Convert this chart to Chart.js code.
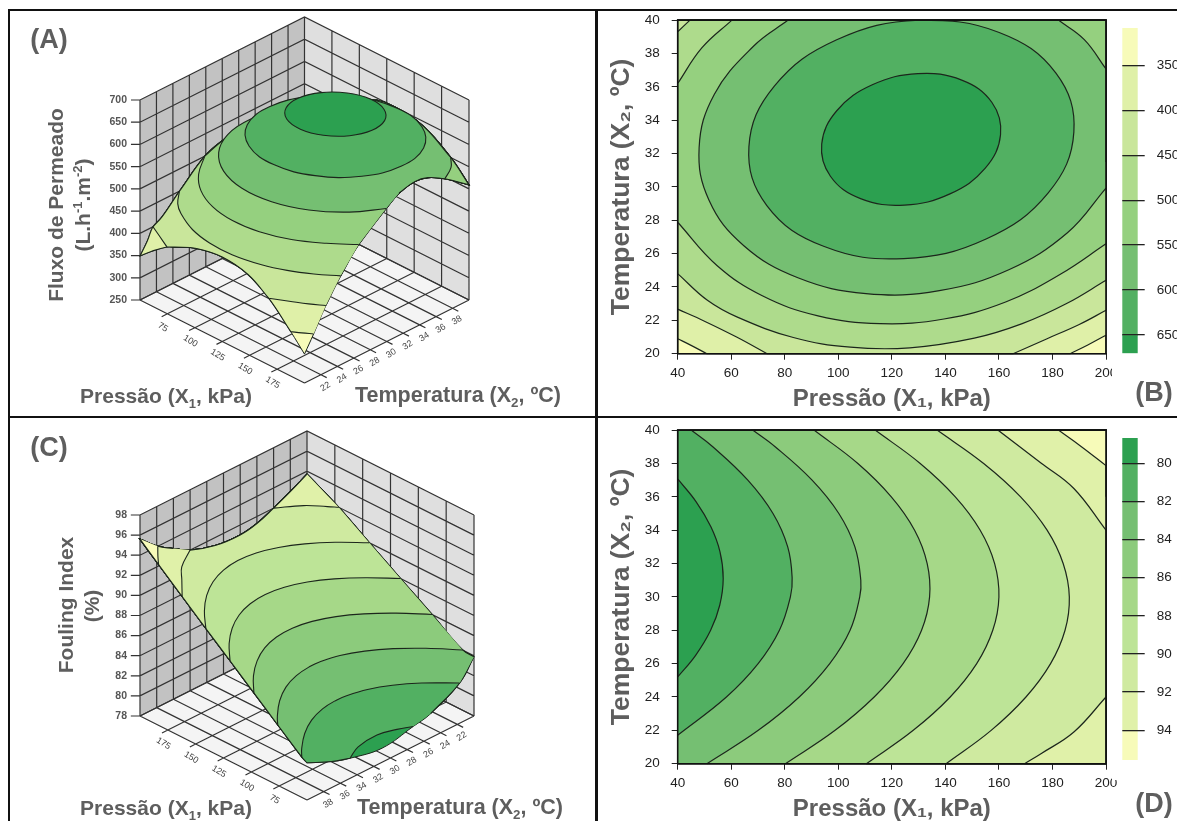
<!DOCTYPE html>
<html>
<head>
<meta charset="utf-8">
<title>Fluxo de permeado e fouling index</title>
<script src="https://cdn.jsdelivr.net/npm/chart.js@4/dist/chart.umd.min.js"></script>
<style>
    html, body { margin: 0; padding: 0; background: #fff; overflow: hidden; }
    body { position: relative; width: 1177px; height: 821px; font-family: "Liberation Sans", Arial, sans-serif; }
    canvas { position: absolute; }
    .rule { position: absolute; background: #111; z-index: 5; }
    .txt { position: absolute; transform: translate(-50%, -50%); white-space: nowrap; font-weight: bold; color: #5e5e5e; z-index: 6; }
    .txt.up { transform: translate(-50%, -50%) rotate(-90deg); }
    .txt sub, .txt sup { font-size: 62%; line-height: 0; }
</style>
</head>
<body>
<div class="rule" style="left:8px;top:9px;width:1169px;height:2px"></div>
<div class="rule" style="left:8px;top:416px;width:1169px;height:2px"></div>
<div class="rule" style="left:8px;top:9px;width:2px;height:812px"></div>
<div class="rule" style="left:595px;top:9px;width:3px;height:812px"></div>

<div class="txt" style="left:49px;top:39px;font-size:27px">(A)</div>
<div class="txt up" style="left:56px;top:205px;font-size:21px">Fluxo de Permeado</div>
<div class="txt up" style="left:83px;top:205px;font-size:21px">(L.h<sup>-1</sup>.m<sup>-2</sup>)</div>
<div class="txt" style="left:166px;top:396px;font-size:21px">Pressão (X<sub>1</sub>, kPa)</div>
<div class="txt" style="left:458px;top:395px;font-size:21.5px">Temperatura (X<sub>2</sub>, ºC)</div>

<div class="txt" style="left:49px;top:447px;font-size:27px">(C)</div>
<div class="txt up" style="left:66px;top:605px;font-size:21px">Fouling Index</div>
<div class="txt up" style="left:92px;top:606px;font-size:21px">(%)</div>
<div class="txt" style="left:166px;top:808px;font-size:21px">Pressão (X<sub>1</sub>, kPa)</div>
<div class="txt" style="left:460px;top:807px;font-size:21.5px">Temperatura (X<sub>2</sub>, ºC)</div>

<div class="txt" style="left:1154px;top:392px;font-size:27px">(B)</div>
<div class="txt" style="left:1154px;top:803px;font-size:27px">(D)</div>

<canvas id="chartA" width="582" height="403" style="left:12px;top:12px"></canvas>
<canvas id="chartC" width="582" height="402" style="left:12px;top:419px"></canvas>
<canvas id="chartB" width="527" height="416" style="left:598px;top:0"></canvas>
<canvas id="chartD" width="527" height="416" style="left:598px;top:410px"></canvas>
<canvas id="barB" width="65" height="377" style="left:1112px;top:8px;background:#fff"></canvas>
<canvas id="barD" width="65" height="362" style="left:1112px;top:418px;background:#fff"></canvas>

<script>
"use strict";

// --- axes ---
var pressureTicks = [40, 60, 80, 100, 120, 140, 160, 180, 200];
var temperatureTicks = [20, 22, 24, 26, 28, 30, 32, 34, 36, 38, 40];
var pressureGrid3d = [50, 75, 100, 125, 150, 175, 200];
var pressureLabels3d = [75, 100, 125, 150, 175];
var temperatureLabels3d = [22, 24, 26, 28, 30, 32, 34, 36, 38];
var fluxTicks = [250, 300, 350, 400, 450, 500, 550, 600, 650, 700];
var foulingTicks = [78, 80, 82, 84, 86, 88, 90, 92, 94, 96, 98];

// --- colour bars ---
var fluxBarTicks = [350, 400, 450, 500, 550, 600, 650];
var fluxBarEdges = [308.6, 350, 400, 450, 500, 550, 600, 650, 670.3];
var fluxColors = ["#f7fbb9", "#dff0a8", "#c9e69b", "#aedb8c", "#95d07f", "#75bf72", "#52b062", "#2ca050"];
var foulingBarTicks = [80, 82, 84, 86, 88, 90, 92, 94];
var foulingBarEdges = [78.67, 80, 82, 84, 86, 88, 90, 92, 94, 95.56];
var foulingColors = ["#2ca050", "#52b062", "#75bf72", "#8ccb7c", "#a6d888", "#bde497", "#cfeaa0", "#e0f1a9", "#f7fbb9"];

// --- flux surface: border of the X1/X2 domain, clockwise, [kPa, C, flux] ---
var fluxRim = [
    [40, 20, 349], [40, 20.9, 375], [40, 21.58, 400], [40, 22.67, 412], [40, 24.8, 450], [40, 27.88, 500], [40, 30, 515], [40, 32, 520],
    [40, 34, 515], [40, 36.2, 500], [40, 39.3, 450], [40, 40, 440],
    [44.6, 40, 450], [60.25, 40, 500], [81.25, 40, 550], [105, 40, 590], [127.8, 40, 600], [155, 40, 590], [182.2, 40, 550], [200, 40, 509],
    [200, 37.07, 550], [200, 35, 572], [200, 33.4, 578], [200, 31.5, 570], [200, 29.93, 550], [200, 26.59, 500],
    [200, 24.4, 450], [200, 22.6, 400], [200, 21.11, 350], [200, 20, 315],
    [186.6, 20, 350], [165.3, 20, 400], [145, 20, 430], [120, 20, 440], [95, 20, 430], [73.4, 20, 408], [66.2, 20, 400], [50.9, 20, 372]
];

// --- flux contours, [kPa, C] ---
var flux350Right = [[200, 21.11], [193.2, 20.52], [186.6, 20]];
var flux350Left = [[50.9, 20], [45, 20.5], [40, 20.9]];
var flux400Right = [[200, 22.6], [190, 21.75], [178, 20.9], [165.3, 20]];
var flux400Left = [[73.4, 20], [62, 21], [50, 21.95], [40, 22.67]];
var flux400LeftSurface = [[66.2, 20], [53, 20.8], [40, 21.58]];
var flux450Main = [[200, 24.4], [185.1, 22.99], [168.7, 21.8], [150.8, 20.93], [126.7, 20.35], [104.5, 20.39], [83.2, 20.97], [62.3, 22.19], [51.1, 23.2], [40, 24.8]];
var flux450Corner = [[40, 39.3], [44.6, 40]];
var flux500Main = [[200, 26.59], [183.1, 24.78], [162.5, 23.1], [139.45, 22.08], [115.5, 21.8], [92.4, 22.27], [71.6, 23.47], [54.65, 25.29], [40, 27.88]];
var flux500Corner = [[40, 36.2], [49, 38.33], [60.25, 40]];
var flux550Main = [[200, 29.93], [185.6, 27.25], [163.9, 25.05], [137.75, 23.78], [110.35, 23.6], [84.9, 24.55], [64.6, 26.49], [51.7, 29.2],
    [48, 32.35], [53.7, 35.56], [68.4, 38.45], [81.25, 40]];
var flux550Corner = [[182.2, 40], [191.9, 38.83], [200, 37.07]];
var flux600Ring = [[66.6, 32.4], [76.1, 36.04], [99.4, 38.82], [130.15, 40], [160.1, 39.26], [181.3, 36.82], [188, 33.3], [178.5, 29.66],
    [155.2, 26.88], [124.45, 25.7], [94.5, 26.44], [73.3, 28.88], [66.6, 32.4]];
var flux650Ring = [[93.8, 32.57], [99.5, 34.58], [112.7, 36.12], [129.7, 36.79], [146.1, 36.4], [157.4, 35.06], [160.6, 33.13], [154.9, 31.12],
    [141.7, 29.58], [124.7, 28.91], [108.3, 29.3], [97.05, 30.64], [93.8, 32.57]];

// --- fouling surface: border, clockwise, [kPa, C, %] ---
var foulingRim = [
    [40, 20, 83.9], [40, 21.71, 82], [40, 25.2, 80.4], [40, 27.3, 80], [40, 31, 79.4], [40, 34.85, 80], [40, 37.07, 80.6], [40, 40, 81.7],
    [45, 40, 82], [68, 40, 84], [90.9, 40, 86], [113.75, 40, 88], [136.9, 40, 90], [159.6, 40, 92], [182.2, 40, 94], [200, 40, 95.6],
    [200, 37.87, 94], [200, 36, 93], [200, 34, 92], [200, 31, 91.2], [200, 28, 91], [200, 26, 91.3], [200, 24, 92], [200, 22, 92.8], [200, 20, 93.7],
    [169.6, 20, 92], [140.25, 20, 90], [110.5, 20, 88], [80.25, 20, 86], [50.9, 20, 84]
];

// --- fouling contours, [kPa, C] ---
var fouling80Map = [[40, 25.2], [46.7, 26.5], [52.3, 28], [55.7, 29.5], [57, 31.1], [55.8, 32.7], [52.4, 34.2], [46.9, 35.7], [40, 37.07]];
var fouling80Surface = [[40, 27.3], [45, 28.6], [49.3, 30.46], [47, 33], [40, 34.85]];
var fouling82 = [[40, 21.71], [58.2, 24], [70.05, 26], [78, 28], [82.1, 30], [82.75, 31.14], [81.1, 33], [75.6, 35], [66.2, 37], [53.1, 39], [45, 40]];
var fouling84 = [[50.9, 20], [70.1, 22], [85.4, 24], [96.8, 26], [104.4, 28], [108, 30], [108.4, 31], [106.2, 33], [100.2, 35], [90.2, 37], [76.4, 39], [68, 40]];
var fouling86 = [[80.25, 20], [98.8, 22], [113.4, 24], [124.2, 26], [131.1, 28], [134.1, 30], [133.2, 32], [128.5, 34], [119.8, 36], [107.3, 38], [90.9, 40]];
var fouling88 = [[110.5, 20], [128, 22], [141.8, 24], [151.7, 26], [157.7, 28], [160, 30], [158.4, 32], [153, 34], [143.7, 36], [130.6, 38], [113.75, 40]];
var fouling90 = [[140.25, 20], [157.1, 22], [170.1, 24], [179.3, 26], [184.7, 28], [186.3, 30], [184, 32], [178, 34], [168.1, 36], [154.3, 38], [136.9, 40]];
var fouling92Top = [[200, 34], [188, 36.5], [175.7, 38.03], [159.6, 40]];
var fouling92Low = [[169.6, 20], [175.7, 20.6], [188, 21.9], [200, 24]];
var fouling94 = [[200, 37.87], [190.7, 39.02], [182.2, 40]];

var fluxRegions = [
    { level: 350, band: 1, arcs: [flux350Right, flux350Left] },
    { level: 400, band: 2, arcs: [flux400Right, flux400Left] },
    { level: 450, band: 3, arcs: [flux450Main, flux450Corner] },
    { level: 500, band: 4, arcs: [flux500Main, flux500Corner] },
    { level: 550, band: 5, arcs: [flux550Main, flux550Corner] },
    { level: 600, band: 6, arcs: [flux600Ring] },
    { level: 650, band: 7, arcs: [flux650Ring] }
];
// the surface picture reads a little differently near its left corner
var fluxSurfaceRegions = fluxRegions.map(function (r) {
    if (r.level === 350) return { level: 350, band: 1, arcs: [flux350Right] };
    if (r.level === 400) return { level: 400, band: 2, arcs: [flux400Right, flux400LeftSurface] };
    return r;
});
var foulingRegions = [
    { level: 80, band: 1, arcs: [fouling80Map] },
    { level: 82, band: 2, arcs: [fouling82] },
    { level: 84, band: 3, arcs: [fouling84] },
    { level: 86, band: 4, arcs: [fouling86] },
    { level: 88, band: 5, arcs: [fouling88] },
    { level: 90, band: 6, arcs: [fouling90] },
    { level: 92, band: 7, arcs: [fouling92Top] },
    { level: 92, band: 7, arcs: [fouling92Low] },
    { level: 94, band: 8, arcs: [fouling94] }
];
var foulingSurfaceRegions = foulingRegions.map(function (r) {
    return r.level === 80 ? { level: 80, band: 1, arcs: [fouling80Surface] } : r;
});

Chart.defaults.animation = false;
Chart.defaults.responsive = false;
Chart.defaults.font.family = '"Liberation Sans", Arial, sans-serif';
Chart.defaults.plugins.legend.display = false;
Chart.defaults.plugins.tooltip.enabled = false;

function same(a, b) { return a[0] === b[0] && a[1] === b[1]; }
function isCorner(q) { return (q[0] === 40 || q[0] === 200) && (q[1] === 20 || q[1] === 40); }
function isRing(region) {
    var arc = region.arcs[0];
    return same(arc[0], arc[arc.length - 1]);
}

// closed outline of {value >= level}: contour arcs joined by stretches of the rim
function outline(region, rim) {
    var out = [];
    function onLevel(q) { return [q[0], q[1], region.level]; }
    if (isRing(region)) {
        // overlap the ends so the spline has no kink where it starts
        var ring = region.arcs[0];
        return [ring[ring.length - 2]].concat(ring, [ring[1]]).map(onLevel);
    }
    region.arcs.forEach(function (arc, i) {
        var last = arc[arc.length - 1];
        var next = region.arcs[(i + 1) % region.arcs.length][0];
        out.push(onLevel(arc[0]));
        arc.forEach(function (q) { out.push(onLevel(q)); });
        out.push(onLevel(last));
        var k = rim.findIndex(function (q) { return same(q, last); });
        for (var n = 1; n <= rim.length; n++) {
            var q = rim[(k + n) % rim.length];
            if (same(q, next)) break;
            out.push(q);
            if (isCorner(q)) out.push(q); // doubled point keeps the corner sharp
        }
    });
    return out;
}

function fullRim(rim) {
    var out = [];
    rim.forEach(function (q) { out.push(q); if (isCorner(q)) out.push(q); });
    out.push(rim[0], rim[0]);
    return out;
}

function shape(points, color, width) {
    return {
        data: points, fill: "shape", backgroundColor: color, borderColor: "#1c261c",
        borderWidth: width, tension: 0.4, pointRadius: 0, clip: false
    };
}

// rings: the fill is drawn alone, the stroke leaves out the two overlap pieces
function addRegion(sets, region, points, color, width) {
    if (!isRing(region)) {
        sets.push(shape(points, color, width));
        return;
    }
    sets.push(shape(points, color, 0));
    sets.push({
        data: points, fill: false, borderColor: "#1c261c", borderWidth: width, tension: 0.4, pointRadius: 0, clip: false,
        segment: {
            borderColor: function (ctx) {
                return ctx.p0DataIndex === 0 || ctx.p1DataIndex === points.length - 1 ? "rgba(0,0,0,0)" : undefined;
            }
        }
    });
}

function mapPoint(q) { return { x: q[0], y: q[1] }; }

function contourChart(id, rim, regions, colors) {
    var sets = [shape(fullRim(rim).map(mapPoint), colors[0], 1.2)];
    regions.forEach(function (r) {
        addRegion(sets, r, outline(r, rim).map(mapPoint), colors[r.band], 1.2);
    });
    // frame on top of the filled bands
    sets.push({
        data: [[40, 20], [40, 40], [200, 40], [200, 20], [40, 20]].map(mapPoint),
        borderColor: "#111", borderWidth: 1.6, pointRadius: 0, tension: 0, fill: false, clip: false
    });
    sets.reverse();
    return new Chart(document.getElementById(id), {
        type: "line",
        data: { datasets: sets },
        options: {
            layout: { padding: { top: 18.7, right: 19 } },
            scales: {
                x: {
                    type: "linear", min: 40, max: 200,
                    afterBuildTicks: function (s) { s.ticks = pressureTicks.map(function (v) { return { value: v }; }); },
                    afterFit: function (s) { s.height = 62.3; },
                    grid: { drawOnChartArea: false, color: "#222", tickLength: 6 },
                    border: { color: "#111" },
                    ticks: { color: "#222", font: { size: 13.5 }, padding: 5, maxRotation: 0, autoSkip: false },
                    title: { display: true, text: "Pressão (X₁, kPa)", color: "#5e5e5e", font: { size: 24, weight: "bold" }, padding: { top: 0, bottom: 2 } }
                },
                y: {
                    type: "linear", min: 20, max: 40,
                    afterBuildTicks: function (s) { s.ticks = temperatureTicks.map(function (v) { return { value: v }; }); },
                    afterFit: function (s) { s.width = 79.7; },
                    grid: { drawOnChartArea: false, color: "#222", tickLength: 6 },
                    border: { color: "#111" },
                    ticks: { color: "#222", font: { size: 13.5 }, padding: 12, autoSkip: false },
                    title: { display: true, text: "Temperatura (X₂, ºC)", color: "#5e5e5e", font: { size: 26.5, weight: "bold" }, padding: { top: 8, bottom: 0 } }
                }
            }
        }
    });
}

function colorBar(id, edges, colors, ticks, top, bottom) {
    var sets = colors.map(function (c, i) {
        return { data: [[edges[i], edges[i + 1]]], backgroundColor: c, barPercentage: 1, categoryPercentage: 1, grouped: false };
    });
    return new Chart(document.getElementById(id), {
        type: "bar",
        data: { labels: [""], datasets: sets },
        options: {
            layout: { padding: { left: 10.3, top: top, bottom: bottom } },
            scales: {
                x: { display: false },
                y: {
                    position: "right", reverse: true, min: edges[0], max: edges[edges.length - 1],
                    afterBuildTicks: function (s) { s.ticks = ticks.map(function (v) { return { value: v }; }); },
                    afterFit: function (s) { s.width = 39.3; },
                    grid: { z: 1, color: "#222", lineWidth: 1.3, tickLength: 7 },
                    border: { display: false },
                    ticks: { color: "#222", font: { size: 13.5 }, padding: 12, autoSkip: false }
                }
            }
        }
    });
}

// view: left corner pixel, half width and rise of the floor, pixels per unit of height
function surfaceChart(id, view, zTicks, rim, regions, colors, uOf, wOf, axisU, axisW) {
    var k = view.rise / view.zPx;
    function at(u, w, z) { return { x: u + w, y: z - k * (u - w) }; }
    function rimPoint(q) { return at(uOf(q[0]), wOf(q[1]), q[2]); }
    var gap = { x: null, y: null };
    var zLow = zTicks[0], zTop = zTicks[zTicks.length - 1];
    var pSteps = pressureGrid3d.map(axisU);
    var tSteps = [20].concat(temperatureLabels3d, [40]).map(axisW);

    var wallLines = [], floorLines = [];
    tSteps.forEach(function (w) { wallLines.push(at(0, w, zLow), at(0, w, zTop), gap); });
    pSteps.forEach(function (u) { wallLines.push(at(u, 1, zLow), at(u, 1, zTop), gap); });
    zTicks.forEach(function (z) { wallLines.push(at(-0.0275, -0.0275, z), at(0, 0, z), at(0, 1, z), at(1, 1, z), gap); });
    pSteps.forEach(function (u) { floorLines.push(at(u, 0, zLow), at(u, 1, zLow), gap); });
    tSteps.forEach(function (w) { floorLines.push(at(0, w, zLow), at(1, w, zLow), gap); });
    pressureLabels3d.forEach(function (p) { floorLines.push(at(axisU(p), 0, zLow), at(axisU(p), -0.035, zLow), gap); });
    temperatureLabels3d.forEach(function (t) { floorLines.push(at(1, axisW(t), zLow), at(1.035, axisW(t), zLow), gap); });

    function plate(pts, color) {
        return { data: pts, fill: "shape", backgroundColor: color, borderWidth: 0, pointRadius: 0, tension: 0, clip: false };
    }
    function lines(pts, color, width) {
        return { data: pts, fill: false, borderColor: color, borderWidth: width, pointRadius: 0, tension: 0, clip: false };
    }

    var sets = [
        plate([at(0, 0, zLow), at(0, 1, zLow), at(0, 1, zTop), at(0, 0, zTop)], "#c2c2c2"),
        plate([at(0, 1, zLow), at(1, 1, zLow), at(1, 1, zTop), at(0, 1, zTop)], "#dfdfdf"),
        plate([at(0, 0, zLow), at(1, 0, zLow), at(1, 1, zLow), at(0, 1, zLow)], "#f4f4f4"),
        lines(wallLines, "#333", 1.2),
        lines(floorLines, "#333", 1.2),
        shape(fullRim(rim).map(rimPoint), colors[0], 1)
    ];
    regions.forEach(function (r) {
        addRegion(sets, r, outline(r, rim).map(rimPoint), colors[r.band], 1.1);
    });
    sets.reverse();

    var width = document.getElementById(id).width, height = document.getElementById(id).height;
    var tickText = {
        id: "tickText",
        afterDraw: function (chart) {
            var c = chart.ctx, xs = chart.scales.x, ys = chart.scales.y;
            function put(pt, dx, dy, txt, angle) {
                c.save();
                c.translate(xs.getPixelForValue(pt.x) + dx, ys.getPixelForValue(pt.y) + dy);
                c.rotate(angle);
                c.fillText(txt, 0, 0);
                c.restore();
            }
            c.save();
            c.textBaseline = "middle";
            c.textAlign = "right";
            c.fillStyle = "#555";
            c.font = 'bold 10.5px "Liberation Sans", Arial, sans-serif';
            zTicks.forEach(function (z) { put(at(0, 0, z), -13, 0, String(z), 0); });
            c.textAlign = "center";
            c.fillStyle = "#444";
            c.font = '9px "Liberation Sans", Arial, sans-serif';
            pressureLabels3d.forEach(function (p) { put(at(axisU(p), 0, zLow), -4.5, 13.5, String(p), 0.55); });
            temperatureLabels3d.forEach(function (t) { put(at(1, axisW(t), zLow), 4.5, 12, String(t), -0.55); });
            c.restore();
        }
    };

    return new Chart(document.getElementById(id), {
        type: "line",
        data: { datasets: sets },
        plugins: [tickText],
        options: {
            scales: {
                x: {
                    type: "linear", display: false,
                    min: -view.x0 / view.halfW,
                    max: (width - view.x0) / view.halfW
                },
                y: {
                    type: "linear", display: false,
                    min: zLow - (height - view.y0) / view.zPx,
                    max: zLow + view.y0 / view.zPx
                }
            }
        }
    });
}

contourChart("chartB", fluxRim, fluxRegions, fluxColors);
contourChart("chartD", foulingRim, foulingRegions, foulingColors);
colorBar("barB", fluxBarEdges, fluxColors, fluxBarTicks, 20, 31.7);
colorBar("barD", foulingBarEdges, foulingColors, foulingBarTicks, 20, 16.7);

surfaceChart("chartA", { x0: 128, y0: 288, halfW: 164.5, rise: 83, zPx: 200 / 450 }, fluxTicks, fluxRim, fluxSurfaceRegions, fluxColors,
    function (p) { return (p - 40) / 160; }, function (t) { return (t - 20) / 20; },
    function (p) { return (p - 50) / 150; }, function (t) { return (t - 20) / 20; });
surfaceChart("chartC", { x0: 128, y0: 297, halfW: 167, rise: 84, zPx: 10.05 }, foulingTicks, foulingRim, foulingSurfaceRegions, foulingColors,
    function (p) { return (200 - p) / 160; }, function (t) { return (40 - t) / 20; },
    function (p) { return (200 - p) / 150; }, function (t) { return (40 - t) / 20; });
</script>
</body>
</html>
